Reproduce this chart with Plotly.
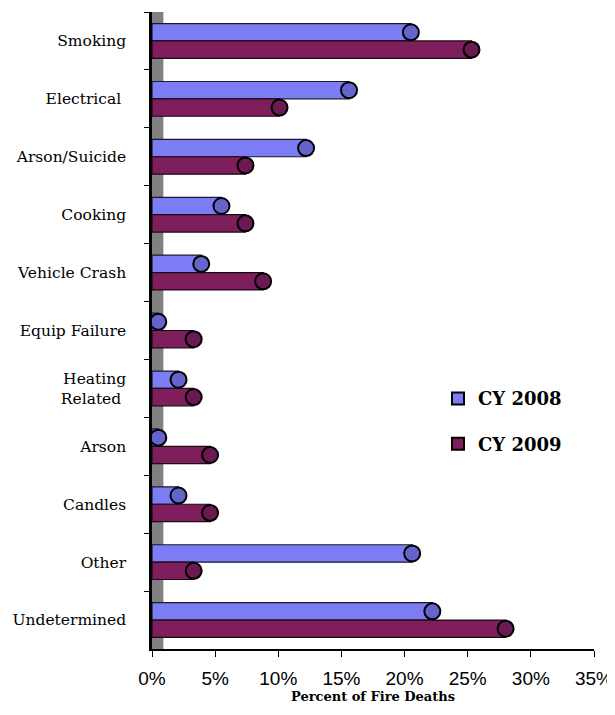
import plotly.graph_objects as go

categories = ["Smoking", "Electrical ", "Arson/Suicide", "Cooking", "Vehicle Crash",
              "Equip Failure", "Heating<br>Related ", "Arson", "Candles", "Other", "Undetermined"]
cy2008 = [20.5, 15.6, 12.2, 5.5, 3.9, 0.5, 2.1, 0.5, 2.1, 20.6, 22.2]
cy2009 = [25.3, 10.1, 7.4, 7.4, 8.8, 3.3, 3.3, 4.6, 4.6, 3.3, 28.0]
xticks = [0, 5, 10, 15, 20, 25, 30, 35]

body_2008, cap_2008 = "#7C7CF4", "#6464CC"
body_2009, cap_2009 = "#7E1E5C", "#6A1A50"

fig = go.Figure()
fig.add_trace(go.Bar(y=categories, x=cy2008, orientation="h", name="CY 2008",
                     offsetgroup="g1", showlegend=False,
                     marker=dict(color=body_2008, line=dict(color="#1a1a2a", width=1.2))))
fig.add_trace(go.Bar(y=categories, x=cy2009, orientation="h", name="CY 2009",
                     offsetgroup="g2", showlegend=False,
                     marker=dict(color=body_2009, line=dict(color="#1a0a12", width=1.2))))
fig.add_trace(go.Scatter(y=categories, x=cy2008, mode="markers", showlegend=False,
                         orientation="h", offsetgroup="g1",
                         marker=dict(symbol="circle", size=16, color=cap_2008,
                                     line=dict(color="black", width=2)),
                         hoverinfo="skip"))
fig.add_trace(go.Scatter(y=categories, x=cy2009, mode="markers", showlegend=False,
                         orientation="h", offsetgroup="g2",
                         marker=dict(symbol="circle", size=16, color=cap_2009,
                                     line=dict(color="black", width=2)),
                         hoverinfo="skip"))
# legend entries
for name, col, grp in [("CY 2008", body_2008, "a"), ("CY 2009", body_2009, "b")]:
    fig.add_trace(go.Scatter(x=[None], y=[None], mode="markers", name=name, legendgroup=grp,
                             marker=dict(symbol="square", size=12, color=col,
                                         line=dict(color="black", width=2))))

# back wall
fig.add_shape(type="rect", xref="x", yref="paper", x0=0, x1=0.9, y0=0, y1=1,
              fillcolor="#808080", line=dict(width=0), layer="below")

fig.update_layout(
    width=607, height=707,
    margin=dict(l=144, r=21, t=4, b=66, autoexpand=False),
    paper_bgcolor="white", plot_bgcolor="white",
    barmode="group", bargap=0.4, bargroupgap=0,
    scattermode="group", scattergap=0.4,
    showlegend=True,
    legend=dict(x=0.647, y=0.422, xanchor="left", yanchor="top",
                font=dict(family="DejaVu Serif", size=18, color="black", weight="bold"),
                tracegroupgap=19, bgcolor="rgba(0,0,0,0)"),
    xaxis=dict(range=[0, 35], tickvals=xticks, ticktext=[f"{v}%" for v in xticks],
               automargin=False,
               showgrid=False, zeroline=False, showline=True, linecolor="black", linewidth=1.5,
               ticks="outside", ticklen=6, tickcolor="black",
               tickfont=dict(family="Liberation Sans", size=19, color="black"),
               ticklabelstandoff=5,
               title=dict(text="Percent of Fire Deaths", standoff=2,
                          font=dict(family="DejaVu Serif", size=13, color="black", weight="bold"))),
    yaxis=dict(autorange="reversed", showgrid=False, zeroline=False, automargin=False,
               showline=True, linecolor="black", linewidth=2.5,
               ticks="outside", tickson="boundaries", ticklen=5, tickcolor="black",
               tickfont=dict(family="DejaVu Serif", size=15.5, color="black"),
               ticklabelstandoff=20),
)

fig.write_html("out.html")
